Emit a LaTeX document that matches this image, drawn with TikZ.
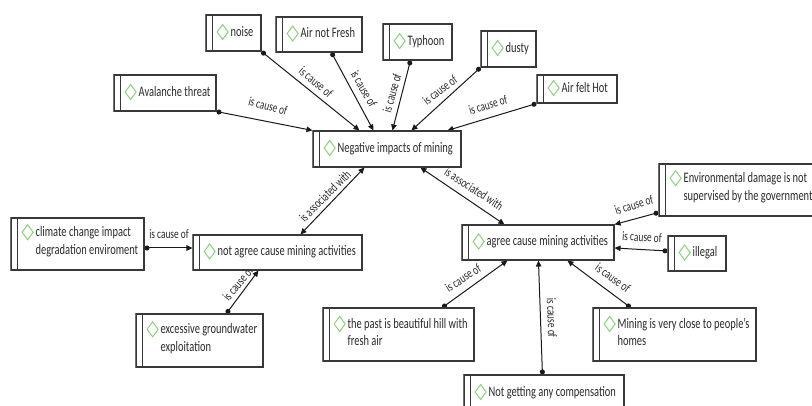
\documentclass[tikz,border=0pt]{standalone}
\usepackage{fontspec}
\setmainfont{Carlito}[FakeStretch=0.72]
\usetikzlibrary{arrows.meta,calc}
\definecolor{boxline}{HTML}{383838}
\definecolor{boxleft}{HTML}{6E6E6E}
\definecolor{txtcol}{HTML}{2A2A2A}
\definecolor{diag}{HTML}{8CD27A}
\pgfdeclarelayer{back}
\pgfdeclarelayer{bg}
\pgfsetlayers{back,bg,main}
\newcommand\dmd{\tikz[baseline=0pt]\draw[draw=diag,line width=1pt] (0pt,4.5pt) -- (5.5pt,12pt) -- (11pt,4.5pt) -- (5.5pt,-3pt) -- cycle;}
\newcommand\cbox[7][1]{%
  \node[cbx, minimum width={(#5)-(#3)}, minimum height={(#6)-(#4)}] (#2) at ({((#3)+(#5))/2},{((#4)+(#6))/2}) {};
  \draw[cbot] (#2.south west) -- (#2.south east);
  \draw[cleft] (#2.south west) -- (#2.north west);
  \draw[cin] ([xshift=7.5pt]#2.north west) -- ([xshift=7.5pt]#2.south west);
  \node[ctx, anchor=west] (#2t) at ([xshift=25pt,yshift=#1pt]#2.west) {\llap{\dmd\hspace{2pt}}#7};
}
\tikzset{
  cbx/.style={rectangle, draw=boxline, line width=1.1pt, fill=white, inner sep=0pt},
  cbot/.style={draw=boxline, line width=1.8pt},
  cleft/.style={draw=boxleft, line width=1.1pt},
  cin/.style={draw=boxline, line width=1pt},
  ctx/.style={inner sep=0pt, font=\fontsize{14.5}{17.5}\selectfont, text=txtcol, align=left},
  lbl/.style={inner sep=0pt, font=\fontsize{13}{15}\selectfont, text=txtcol},
  cause/.style={draw=black!90, line width=1pt, {Circle[length=5pt]}-{Triangle[length=6pt,width=5.5pt]}},
  assoc/.style={draw=black!90, line width=1pt, {Triangle[length=6pt,width=5.5pt]}-{Triangle[length=6pt,width=5.5pt]}}
}
\begin{document}
\begin{tikzpicture}[x=1pt,y=-1pt]
\useasboundingbox (0,0) rectangle (812,406);
\clip (0,0) rectangle (812,406);
\begin{pgfonlayer}{back}
\fill[white] (0,0) rectangle (812,406);
\end{pgfonlayer}
% boxes
\cbox{noise}{206}{15}{261}{51}{noise}
\cbox{airnf}{276}{17}{362}{52}{Air not Fresh}
\cbox{typh}{383}{24}{452}{60}{Typhoon}
\cbox{dusty}{481}{31}{536}{67}{dusty}
\cbox{hot}{537}{75}{617}{103}{Air felt Hot}
\cbox{aval}{114}{75}{216}{111}{Avalanche threat}
\cbox{neg}{313}{131}{461}{167}{Negative impacts of mining}
\cbox[3.5]{clim}{11}{218}{144}{270}{climate change impact\\degradation enviroment}
\cbox{nagree}{193}{235}{362}{270}{not agree cause mining activities}
\cbox[3]{exc}{136}{314}{263}{367}{excessive groundwater\\exploitation}
\cbox[3.5]{past}{323}{308}{474}{361}{the past is beautiful hill with\\fresh air}
\cbox[3.5]{env}{659}{164}{818}{216}{Environmental damage is not\\supervised by the government}
\cbox{agree}{462}{225}{614}{260}{agree cause mining activities}
\cbox{ill}{668}{236}{726}{271}{illegal}
\cbox[3.5]{mine}{593}{308}{756}{361}{Mining is very close to people's\\homes}
\cbox{nget}{464}{375}{624}{411}{Not getting any compensation}
\begin{pgfonlayer}{bg}
% connectors
\draw[cause] (aval.south east) -- (neg.north west);
\draw[cause] (noise.south east) -- ([xshift=47pt]neg.north west);
\draw[cause] ([xshift=56pt]airnf.south west) -- ([xshift=61pt]neg.north west);
\draw[cause] ([xshift=28pt]typh.south west) -- ([xshift=80pt]neg.north west);
\draw[cause] (dusty.south west) -- ([xshift=99pt]neg.north west);
\draw[cause] (hot.south west) -- ([xshift=135pt]neg.north west);
\draw[assoc] ([xshift=108pt]nagree.north west) -- ([xshift=52pt]neg.south west);
\draw[assoc] ([xshift=43pt]agree.north west) -- ([xshift=108pt]neg.south west);
\draw[cause] ([yshift=-4pt]clim.east) -- ([yshift=4.5pt]nagree.west);
\draw[cause] ([xshift=91pt]exc.north west) -- ([xshift=66pt]nagree.south west);
\draw[cause] ([yshift=4pt]env.south west) -- (agree.north east);
\draw[cause] ([yshift=2.5pt]ill.west) -- ([yshift=-5.5pt]agree.east);
\draw[cause] ([xshift=120pt]past.north west) -- ([xshift=46pt]agree.south west);
\draw[cause] ([xshift=79pt]nget.north west) -- ([xshift=77pt]agree.south west);
\draw[cause] ([xshift=38pt]mine.north west) -- ([xshift=106pt]agree.south west);
% labels
\node[lbl, rotate=-15] (l1) at (268,106) {is cause of};
\node[lbl, rotate=-40] (l2) at (316,82) {is cause of};
\node[lbl, rotate=-60] (l3) at (364,89) {is cause of};
\node[lbl, rotate=74] (l4) at (392,93) {is cause of};
\node[lbl, rotate=38] (l5) at (440,90) {is cause of};
\node[lbl, rotate=16] (l6) at (488,105) {is cause of};
\node[lbl, rotate=45] (l7) at (325,196) {is associated with};
\node[lbl, rotate=-33] (l8) at (474,189) {is associated with};
\node[lbl] (l9) at (169,234) {is cause of};
\node[lbl, rotate=50] (l10) at (238,284) {is cause of};
\node[lbl, rotate=17] (l11) at (634,205) {is cause of};
\node[lbl, rotate=-3] (l12) at (642,237) {is cause of};
\node[lbl, rotate=33] (l13) at (463,278) {is cause of};
\node[lbl, rotate=-88] (l14) at (552,318) {is cause of};
\node[lbl, rotate=-36] (l15) at (613,278) {is cause of};
\end{pgfonlayer}
\end{tikzpicture}
\end{document}
